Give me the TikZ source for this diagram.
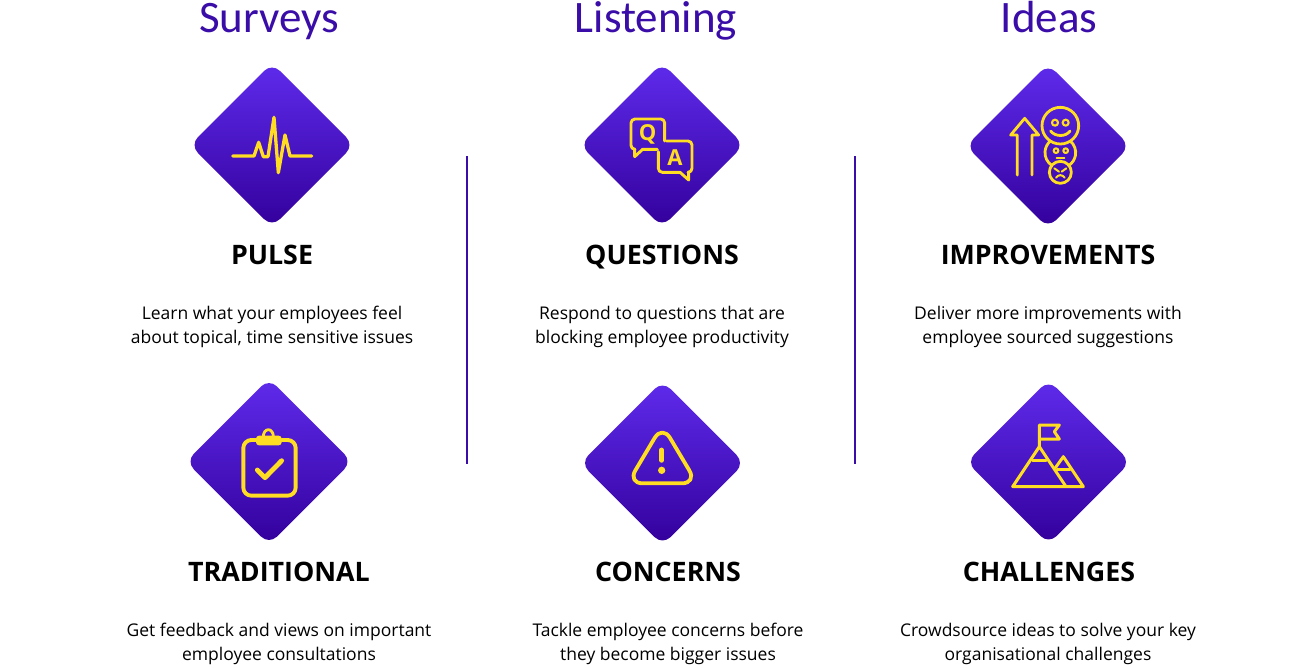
\documentclass[tikz,border=0pt]{standalone}
\usepackage{fontspec}
\setmainfont{Open Sans}
\newfontfamily\titlefont{Carlito}
\definecolor{ink}{HTML}{3A0CA8}
\definecolor{gold}{HTML}{FFDD22}
\definecolor{gtop}{HTML}{5F2BEC}
\definecolor{gbot}{HTML}{33009C}
\tikzset{
  coltitle/.style={text=ink,font=\titlefont\fontsize{45}{45}\selectfont,inner sep=0,anchor=base},
  heading/.style={text=black,font=\fontsize{26.8}{28}\bfseries\selectfont,inner sep=0,anchor=base},
  blurb/.style={text=black,font=\fontsize{17.5}{24}\selectfont,align=center,inner sep=0,anchor=center},
  divider/.style={draw=ink,line width=1.7},
  gem/.style={rounded corners=11,top color=gtop,bottom color=gbot,draw=none},
  ico/.style={draw=gold,line width=2.8,line cap=round,line join=round},
  zoomed/.style={shift={#1},x=0.33333pt,y=-0.33333pt}
}
\newcommand{\gemat}[4]{\path[gem] (#1-#3-4,#2) -- (#1,#2-#4-4) -- (#1+#3+4,#2) -- (#1,#2+#4+4) -- cycle;}
\begin{document}
\begin{tikzpicture}[x=1pt,y=-1pt]
\useasboundingbox[fill=white] (0,0) rectangle (1300,667);
\node[coltitle] (t1) at (269,32) {Surveys};
\node[coltitle] (t2) at (656,32) {Listening};
\node[coltitle] (t3) at (1049,32) {Ideas};
\coordinate (d1a) at (467,156); \coordinate (d1b) at (467,464);
\coordinate (d2a) at (855,156); \coordinate (d2b) at (855,464);
\draw[divider] (d1a) -- (d1b);
\draw[divider] (d2a) -- (d2b);
\gemat{272}{145}{78}{78}
\gemat{662}{145}{78}{78}
\gemat{1048}{146}{78}{78}
\gemat{269}{461.5}{79}{79}
\gemat{662.5}{463}{78}{78}
\gemat{1048.5}{462}{78}{78}
% pulse
\begin{scope}[zoomed={(180,55)}]
\draw[ico,line width=3.3] (158,303) -- (222,303) -- (236,262) -- (250,305) -- (264,305) -- (282,187) -- (295,353) -- (315,240) -- (330,303) -- (395,303);
\end{scope}
% Q and A
\begin{scope}[zoomed={(570,55)}]
\draw[ico,line width=2.9] (284,258) [rounded corners=4] -- (284,192) -- (183,192) -- (183,283) [sharp corners] -- (194,283) -- (194,305) -- (218,283) -- (262,283);
\draw[ico,line width=2.9] (290,258) [rounded corners=4] -- (366,258) -- (366,352) [sharp corners] -- (356,352) -- (356,375) -- (330,352) [rounded corners=4] -- (265,352) -- (265,290);
\node[text=gold,font=\fontsize{22}{22}\bfseries\selectfont,inner sep=0] (qq) at (233,238) {Q};
\node[text=gold,font=\fontsize{22}{22}\bfseries\selectfont,inner sep=0] (aa) at (315,308) {A};
\end{scope}
% improvements
\begin{scope}[zoomed={(960,55)}]
\draw[ico,line width=2.8] (172,360) -- (172,240) -- (152,240) -- (194,190) -- (236,240) -- (216,240) -- (216,360);
\draw[ico,line width=2.8] (301,212) circle[radius=55];
\draw[ico,line width=2.8] (301,352) circle[radius=33];
\draw[ico,line width=2.8] ([shift={(301,293)}]-49:46) arc[start angle=-49,end angle=56,radius=46];
\draw[ico,line width=2.8] ([shift={(301,293)}]124:46) arc[start angle=124,end angle=229,radius=46];
\draw[ico,line width=2.1] (285,203) circle[radius=9] (317,203) circle[radius=9];
\draw[ico,line width=2.8] (272,228) .. controls (285,246) and (318,246) .. (330,228);
\draw[ico,line width=2.1] (288,287) circle[radius=7] (317,287) circle[radius=7];
\draw[ico,line width=2.1] (290,310) -- (313,310);
\draw[ico,line width=2] (283,340) -- (297,350) (319,340) -- (305,350);
\draw[ico,line width=2] (288,368) .. controls (295,358) and (307,358) .. (314,368);
\end{scope}
% clipboard
\begin{scope}[zoomed={(180,375)}]
\draw[ico,line width=3.9,rounded corners=8] (228,195) -- (190,195) -- (190,362) -- (347,362) -- (347,195) -- (305,195);
\path[fill=gold,rounded corners=3] (228,182) rectangle (305,211);
\draw[ico,line width=2.8] (250,184) arc[start angle=180,x radius=15,y radius=20,end angle=360];
\draw[ico,line width=4.8] (232,285) -- (255,308) -- (305,257);
\end{scope}
% warning
\begin{scope}[zoomed={(570,375)}]
\draw[ico,line width=3.8,rounded corners=15] (277,150) -- (173,325) -- (381,325) -- cycle;
\draw[ico,line width=4.8] (275,225) -- (275,256);
\path[fill=gold] (275,286) circle[radius=11];
\end{scope}
% challenges
\begin{scope}[zoomed={(960,375)}]
\draw[ico,line width=3] (238,215) -- (238,150) -- (298,150) -- (283,170) -- (298,192) -- (238,192);
\draw[ico,line width=3] (158,335) -- (370,335) -- (310,245) -- (285,280);
\draw[ico,line width=3] (158,335) -- (238,215) -- (318,335);
\draw[ico,line width=3] (218,255) -- (258,255);
\draw[ico,line width=3] (292,284) -- (330,284);
\end{scope}
\node[heading] (h1) at (272,264.2) {PULSE};
\node[heading] (h2) at (662,264.2) {QUESTIONS};
\node[heading] (h3) at (1048,264.2) {IMPROVEMENTS};
\node[heading] (h4) at (279,581.2) {TRADITIONAL};
\node[heading] (h5) at (668,581.2) {CONCERNS};
\node[heading] (h6) at (1049,581.2) {CHALLENGES};
\node[blurb] (b1) at (272,327) {Learn what your employees feel\\about topical, time sensitive issues};
\node[blurb] (b2) at (662,327) {Respond to questions that are\\blocking employee productivity};
\node[blurb] (b3) at (1048,327) {Deliver more improvements with\\employee sourced suggestions};
\node[blurb] (b4) at (279,644) {Get feedback and views on important\\employee consultations};
\node[blurb] (b5) at (668,644) {Tackle employee concerns before\\they become bigger issues};
\node[blurb] (b6) at (1048,644) {Crowdsource ideas to solve your key\\organisational challenges};
\end{tikzpicture}
\end{document}
